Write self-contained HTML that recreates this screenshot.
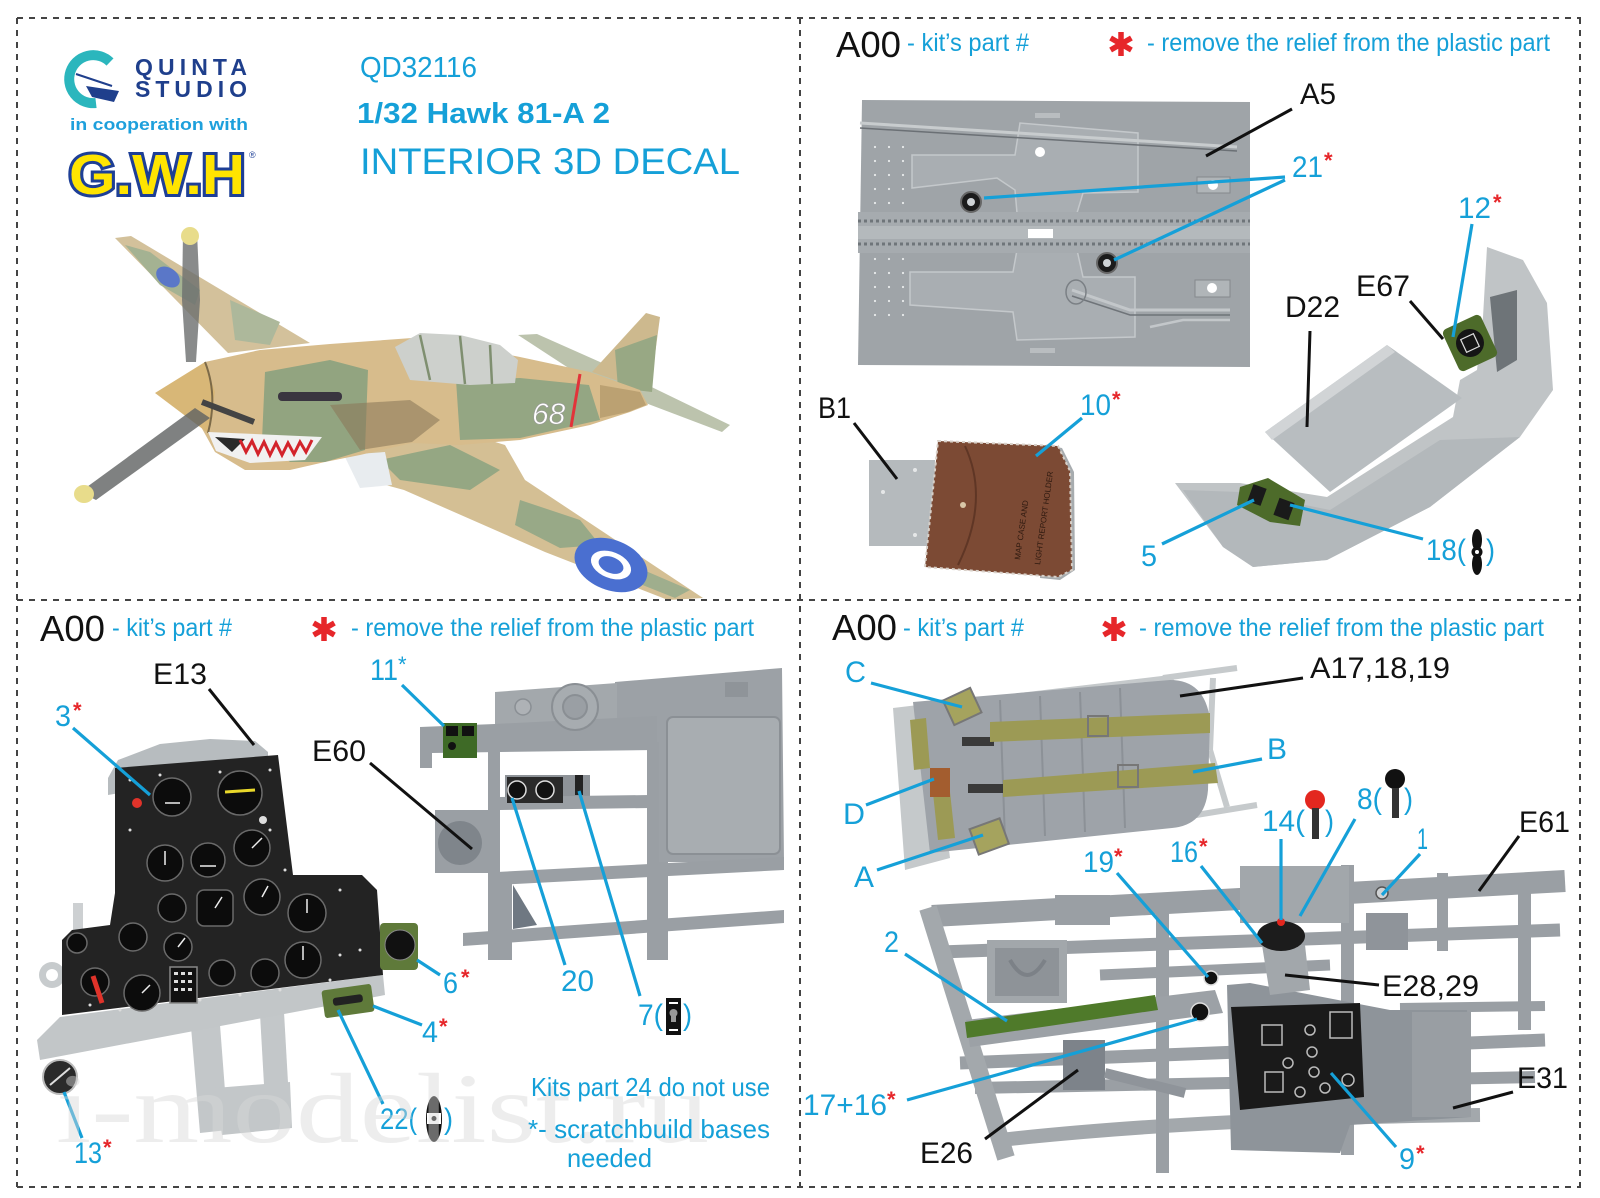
<!DOCTYPE html>
<html><head><meta charset="utf-8"><style>
html,body{margin:0;padding:0;background:#fff;}
svg{display:block;}
text{font-family:"Liberation Sans",Arial,sans-serif;}
.b{fill:#15a0d8;}
.k{fill:#111;}
.r{fill:#e6262a;font-weight:bold;}
.lb{stroke:#15a0d8;stroke-width:3.2;fill:none;}
.lk{stroke:#111;stroke-width:3;fill:none;}
.ast{stroke:#e6262a;stroke-width:5.5;fill:none;}
</style></head><body>
<svg width="1600" height="1198" viewBox="0 0 1600 1198" xmlns="http://www.w3.org/2000/svg">
<rect width="1600" height="1198" fill="#fff"/>

<!-- ================= TOP LEFT ================= -->
<path d="M110,62 A24 24 0 1 0 96,103" stroke="#2bb6bd" stroke-width="10" fill="none"/>
<path d="M76,74 L112,86" stroke="#1f3f8c" stroke-width="2"/>
<polygon points="86,86 119,91 114,102 92,97" fill="#1f3f8c"/>
<text x="135" y="75" font-size="23" font-weight="bold" fill="#1f3f8c" textLength="112" lengthAdjust="spacing">QUINTA</text>
<text x="135" y="97" font-size="23" font-weight="bold" fill="#1f3f8c" textLength="112" lengthAdjust="spacing">STUDIO</text>
<text x="70" y="130" font-size="17" font-weight="bold" fill="#1ea0dc" textLength="178" lengthAdjust="spacingAndGlyphs">in cooperation with</text>
<text x="69" y="194" font-size="57" font-weight="bold" fill="#ffe400" stroke="#1e3f96" stroke-width="6" paint-order="stroke" textLength="176" lengthAdjust="spacingAndGlyphs">G.W.H</text>
<text x="249" y="158" font-size="9" fill="#1e3f96">®</text>

<text x="360" y="77" font-size="29" class="b" textLength="117" lengthAdjust="spacingAndGlyphs">QD32116</text>
<text x="357" y="123" font-size="29" font-weight="bold" class="b" textLength="253" lengthAdjust="spacingAndGlyphs">1/32 Hawk 81-A 2</text>
<text x="360" y="174" font-size="37" class="b" textLength="380" lengthAdjust="spacingAndGlyphs">INTERIOR 3D DECAL</text>

<!-- Airplane -->
<g>
 <polygon points="115,238 131,236 310,343 228,353" fill="#d3c19b"/>
 <polygon points="125,245 150,252 200,290 195,305 160,285" fill="#a4b292"/>
 <polygon points="230,300 280,322 270,345 235,340" fill="#adb89b"/>
 <ellipse cx="168" cy="277" rx="13" ry="9" fill="#5a77c8" transform="rotate(35 168 277)"/>
 <polygon points="518,335 537,334 600,362 730,425 722,432 590,382" fill="#bcc3ad"/>
 <polygon points="592,372 646,313 660,317 650,392" fill="#cdb98e"/>
 <polygon points="615,350 657,335 652,392 618,388" fill="#98a884"/>
 <polygon points="340,450 400,440 456,430 505,445 525,480 703,598 668,600 545,552 404,490 360,478" fill="#d4bf94"/>
 <polygon points="380,460 450,445 500,470 470,490 400,480" fill="#95a783"/>
 <polygon points="520,500 580,520 600,545 560,548 515,525" fill="#98a987"/>
 <polygon points="620,560 690,590 675,598 630,580" fill="#9fae8d"/>
 <ellipse cx="611" cy="565" rx="38" ry="25" fill="#4a6fd0" transform="rotate(22 611 565)"/>
 <ellipse cx="611" cy="565" rx="21" ry="13" fill="#fff" transform="rotate(22 611 565)"/>
 <ellipse cx="611" cy="565" rx="13" ry="8" fill="#4a6fd0" transform="rotate(22 611 565)"/>
 <polygon points="344,455 385,452 392,485 360,488" fill="#e8ecef"/>
 <path d="M205,362 L260,350 L330,344 L412,338 L460,345 L520,357 L590,372 L640,390 L648,405 L630,412 L590,425 L520,440 L460,445 L412,443 L360,455 L325,462 L290,470 L245,470 L215,452 L200,425 Z" fill="#d7bc8c"/>
 <polygon points="265,372 330,360 368,370 365,450 325,462 290,462 262,440" fill="#92a480"/>
 <polygon points="330,405 410,400 440,420 412,442 360,450" fill="#8c7a5a" opacity="0.6"/>
 <polygon points="456,380 520,378 589,385 600,420 520,438 460,440" fill="#94a683"/>
 <polygon points="600,385 640,392 646,405 628,412 600,418" fill="#bba172"/>
 <line x1="580" y1="374" x2="571" y2="427" stroke="#e2333a" stroke-width="3"/>
 <text x="532" y="424" font-size="30" font-style="italic" fill="#fff" stroke="#999" stroke-width="0.6">68</text>
 <polygon points="395,347 420,333 460,335 500,345 518,360 515,383 470,385 410,380" fill="#cdd0cc"/>
 <path d="M420,335 L430,380 M460,336 L465,384 M490,345 L492,384" stroke="#7f8f70" stroke-width="2.5" fill="none"/>
 <rect x="278" y="392" width="64" height="9" rx="4" fill="#3a3540"/>
 <polygon points="155,393 205,362 215,392 208,433" fill="#d8b777"/>
 <path d="M205,362 Q218,395 208,433" stroke="#7c6a48" stroke-width="2" fill="none"/>
 <polygon points="208,432 322,437 305,460 250,463 216,451" fill="#f1f1f1"/>
 <polygon points="215,437 245,439 232,452" fill="#2a2a2a"/>
 <polyline points="240,440 246,452 252,441 258,454 264,442 270,455 276,443 282,455 288,443 294,454 300,442 306,452 312,440" stroke="#d3232b" stroke-width="3" fill="none"/>
 <polygon points="183,232 197,232 200,300 196,362 186,362 182,300" fill="#6b6e6e" opacity="0.8"/>
 <ellipse cx="190" cy="236" rx="9" ry="9" fill="#e8dc8b"/>
 <polygon points="195,408 210,418 96,500 80,492" fill="#5f6262" opacity="0.8"/>
 <ellipse cx="84" cy="494" rx="10" ry="9" fill="#e8dc8b"/>
 <line x1="202" y1="402" x2="254" y2="422" stroke="#444" stroke-width="6"/>
</g>

<!-- ================= TOP RIGHT ================= -->
<text x="836" y="57" font-size="36" class="k" textLength="65" lengthAdjust="spacingAndGlyphs">A00</text>
<text x="907" y="51" font-size="25" class="b" textLength="122" lengthAdjust="spacingAndGlyphs">- kit’s part #</text>
<path class="ast" d="M1121,32 L1121,56 M1110.6,38 L1131.4,50 M1110.6,50 L1131.4,38"/>
<text x="1147" y="51" font-size="25" class="b" textLength="403" lengthAdjust="spacingAndGlyphs">- remove the relief from the plastic part</text>

<defs>
 <pattern id="dots" width="14" height="14" patternUnits="userSpaceOnUse">
  <circle cx="7" cy="7" r="1.1" fill="#e8eaeb"/>
 </pattern>
</defs>
<polygon points="862,100 1250,102 1250,367 858,365" fill="#9fa4a8"/>
<rect x="868" y="135" width="45" height="190" fill="url(#dots)"/>
<polygon points="912,155 1015,155 1020,123 1138,133 1138,192 1083,193 1077,213 1017,213 1015,190 997,178 912,188" fill="#a9aeb2" stroke="#c4c8cb" stroke-width="1.5"/>
<polygon points="910,272 1013,272 1017,250 1077,250 1083,277 1135,277 1135,337 1017,340 1013,312 910,305" fill="#a9aeb2" stroke="#c4c8cb" stroke-width="1.5"/>
<rect x="858" y="212" width="392" height="41" fill="#a6abaf"/>
<rect x="858" y="226" width="392" height="13" fill="#b4b9bc"/>
<line x1="858" y1="221" x2="1250" y2="221" stroke="#6f757a" stroke-width="3" stroke-dasharray="3 3"/>
<line x1="858" y1="244" x2="1250" y2="244" stroke="#6f757a" stroke-width="3" stroke-dasharray="3 3"/>
<rect x="1028" y="229" width="25" height="9" fill="#fff"/>
<line x1="860" y1="123" x2="1237" y2="147" stroke="#c8ccce" stroke-width="3"/>
<line x1="860" y1="128" x2="1237" y2="151" stroke="#6b7075" stroke-width="1.5"/>
<circle cx="1040" cy="152" r="5" fill="#fff"/>
<rect x="1035" y="113" width="25" height="5" fill="#b9bdc0"/>
<rect x="1030" y="348" width="25" height="5" fill="#b9bdc0"/>
<rect x="1197" y="177" width="33" height="16" fill="#b0b5b8" stroke="#85898d"/>
<circle cx="1213" cy="185" r="5" fill="#fff"/>
<rect x="1195" y="280" width="35" height="17" fill="#b0b5b8" stroke="#85898d"/>
<circle cx="1212" cy="288" r="5" fill="#fff"/>
<polyline points="1072,290 1130,310 1230,310" stroke="#c3c7ca" stroke-width="3" fill="none"/>
<polyline points="1072,296 1130,315 1230,315" stroke="#6f7479" stroke-width="1.5" fill="none"/>
<polyline points="1150,327 1183,320 1230,320" stroke="#c3c7ca" stroke-width="2.5" fill="none"/>
<ellipse cx="1076" cy="292" rx="10" ry="12" fill="none" stroke="#7b8085" stroke-width="1.5"/>
<circle cx="971" cy="202" r="10" fill="#1b1b1b" stroke="#666" stroke-width="2"/>
<circle cx="971" cy="202" r="4" fill="#cfd3d6"/>
<circle cx="1107" cy="263" r="10" fill="#1b1b1b" stroke="#666" stroke-width="2"/>
<circle cx="1107" cy="263" r="4" fill="#cfd3d6"/>

<text x="1300" y="104" font-size="30" class="k" textLength="36" lengthAdjust="spacingAndGlyphs">A5</text>
<line class="lk" x1="1292" y1="109" x2="1206" y2="156"/>
<text x="1292" y="177" font-size="30" class="b" textLength="31" lengthAdjust="spacingAndGlyphs">21</text>
<text x="1324" y="168" font-size="22" class="r">*</text>
<line class="lb" x1="1285" y1="177" x2="984" y2="198"/>
<line class="lb" x1="1285" y1="180" x2="1114" y2="260"/>

<!-- D22 seat -->
<polygon points="1175,483 1240,483 1327,497 1453,417 1460,380 1477,370 1483,317 1487,247 1523,260 1547,303 1553,390 1520,437 1430,507 1327,560 1253,567 1223,547" fill="#c0c4c6"/>
<polygon points="1183,490 1240,492 1330,510 1440,440 1520,437 1430,507 1327,560 1253,567 1223,547" fill="#b3b8bb"/>
<polygon points="1265,432 1387,345 1462,398 1330,492" fill="#b8bdc0"/>
<polygon points="1265,432 1387,345 1395,352 1272,440" fill="#d1d4d6"/>
<polygon points="1490,297 1517,290 1517,360 1497,372" fill="#6e7478"/>
<g transform="rotate(-25 1470 343)">
 <rect x="1449" y="320" width="42" height="46" rx="5" fill="#4d6b2a"/>
 <circle cx="1470" cy="343" r="14" fill="#151515"/>
 <rect x="1463" y="336" width="14" height="14" fill="none" stroke="#ddd" stroke-width="1.2"/>
</g>
<polygon points="1240,487 1268,478 1305,500 1300,526 1270,522 1237,505" fill="#4d6b2a"/>
<rect x="1250" y="486" width="14" height="18" fill="#1a1a1a" transform="rotate(20 1257 495)"/>
<rect x="1276" y="500" width="16" height="18" fill="#1a1a1a" transform="rotate(20 1284 509)"/>

<text x="1458" y="218" font-size="30" class="b" textLength="33" lengthAdjust="spacingAndGlyphs">12</text>
<text x="1493" y="210" font-size="22" class="r">*</text>
<line class="lb" x1="1472" y1="224" x2="1453" y2="337"/>
<text x="1356" y="296" font-size="30" class="k" textLength="54" lengthAdjust="spacingAndGlyphs">E67</text>
<line class="lk" x1="1410" y1="301" x2="1443" y2="339"/>
<text x="1285" y="317" font-size="30" class="k" textLength="55" lengthAdjust="spacingAndGlyphs">D22</text>
<line class="lk" x1="1310" y1="331" x2="1307" y2="427"/>

<!-- B1 / map case -->
<rect x="869" y="460" width="66" height="86" fill="#b5babd"/>
<circle cx="883" cy="492" r="2" fill="#e5e7e8"/><circle cx="915" cy="470" r="2" fill="#e5e7e8"/><circle cx="915" cy="535" r="2" fill="#e5e7e8"/>
<polygon points="1045,445 1062,448 1074,472 1075,570 1060,580 1040,578" fill="#a7acaf"/>
<polygon points="938,441 1058,446 1070,471 1072,570 1058,577 925,567" fill="#7c4a34" stroke="#d8d0c8" stroke-width="2" stroke-dasharray="3 3"/>
<path d="M965,446 Q990,500 958,565" stroke="#5f3625" stroke-width="2" fill="none"/>
<circle cx="963" cy="505" r="3" fill="#d9c7a8"/>
<text x="0" y="0" font-size="8" fill="#2f1a10" transform="translate(1020,560) rotate(-82)">MAP CASE AND</text>
<text x="0" y="0" font-size="8" fill="#2f1a10" transform="translate(1040,565) rotate(-82)">LIGHT REPORT HOLDER</text>

<text x="818" y="418" font-size="30" class="k" textLength="33" lengthAdjust="spacingAndGlyphs">B1</text>
<line class="lk" x1="854" y1="423" x2="897" y2="479"/>
<text x="1080" y="415" font-size="30" class="b" textLength="31" lengthAdjust="spacingAndGlyphs">10</text>
<text x="1112" y="407" font-size="22" class="r">*</text>
<line class="lb" x1="1082" y1="418" x2="1036" y2="456"/>
<text x="1141" y="566" font-size="30" class="b" textLength="16" lengthAdjust="spacingAndGlyphs">5</text>
<line class="lb" x1="1162" y1="544" x2="1254" y2="500"/>
<text x="1426" y="560" font-size="30" class="b" textLength="40" lengthAdjust="spacingAndGlyphs">18(</text>
<ellipse cx="1477" cy="540" rx="5" ry="11" fill="#111"/>
<ellipse cx="1477" cy="564" rx="5" ry="11" fill="#111"/>
<circle cx="1477" cy="552" r="5.5" fill="#111"/>
<circle cx="1477" cy="552" r="2" fill="#fff"/>
<text x="1486" y="560" font-size="30" class="b" textLength="9" lengthAdjust="spacingAndGlyphs">)</text>
<line class="lb" x1="1423" y1="539" x2="1290" y2="505"/>

<!-- ================= BOTTOM LEFT ================= -->
<text x="40" y="641" font-size="36" class="k" textLength="65" lengthAdjust="spacingAndGlyphs">A00</text>
<text x="112" y="636" font-size="25" class="b" textLength="120" lengthAdjust="spacingAndGlyphs">- kit’s part #</text>
<path class="ast" d="M324,617 L324,641 M313.6,623 L334.4,635 M313.6,635 L334.4,623"/>
<text x="351" y="636" font-size="25" class="b" textLength="403" lengthAdjust="spacingAndGlyphs">- remove the relief from the plastic part</text>

<!-- instrument panel -->
<polygon points="108,778 118,760 160,744 210,739 255,741 268,752 268,768 108,795" fill="#b7bcbf"/>
<polygon points="191,1027 220,1025 228,1130 200,1133" fill="#c3c7c9"/>
<polygon points="260,1014 284,1012 290,1118 266,1120" fill="#c3c7c9"/>
<polygon points="215,1088 290,1082 292,1128 222,1135" fill="#c3c7c9"/>
<polygon points="37,1040 60,1017 383,975 385,995 40,1060" fill="#c2c6c8"/>
<circle cx="52" cy="975" r="13" fill="#c7cbcd"/>
<circle cx="52" cy="975" r="6" fill="#fff"/>
<rect x="73" y="903" width="10" height="28" fill="#cdd0d2"/>
<polygon points="115,768 278,755 293,875 362,875 377,890 383,975 62,1015 62,940 72,930 110,925 115,893" fill="#232323"/>
<rect x="380" y="923" width="38" height="47" rx="4" fill="#5f7a3a"/>
<circle cx="400" cy="945" r="15" fill="#111" stroke="#888" stroke-width="1"/>
<rect x="323" y="987" width="50" height="28" rx="3" fill="#5f7a3a" transform="rotate(-8 348 1001)"/>
<rect x="333" y="996" width="30" height="8" rx="3" fill="#222" transform="rotate(-8 348 1001)"/>
<circle cx="60" cy="1077" r="17" fill="#2a2a2a" stroke="#bbb" stroke-width="2"/>
<line x1="50" y1="1085" x2="70" y2="1068" stroke="#ddd" stroke-width="2"/>
<g fill="#0c0c0c" stroke="#6a6a6a" stroke-width="1.5">
 <circle cx="172" cy="797" r="19"/>
 <circle cx="240" cy="793" r="22"/>
 <circle cx="165" cy="863" r="18"/>
 <circle cx="208" cy="860" r="17"/>
 <circle cx="252" cy="848" r="18"/>
 <circle cx="172" cy="908" r="14"/>
 <rect x="197" y="890" width="36" height="36" rx="7"/>
 <circle cx="262" cy="897" r="18"/>
 <circle cx="307" cy="913" r="19"/>
 <circle cx="133" cy="937" r="14"/>
 <circle cx="178" cy="947" r="14"/>
 <circle cx="303" cy="960" r="18"/>
 <circle cx="265" cy="973" r="14"/>
 <circle cx="222" cy="973" r="13"/>
 <circle cx="142" cy="993" r="18"/>
 <circle cx="77" cy="943" r="10"/>
 <circle cx="95" cy="982" r="14"/>
</g>
<line x1="225" y1="792" x2="255" y2="790" stroke="#e9d82a" stroke-width="3"/>
<g stroke="#eee" stroke-width="1.5">
 <line x1="165" y1="803" x2="180" y2="803"/><line x1="165" y1="865" x2="165" y2="851"/>
 <line x1="200" y1="866" x2="216" y2="866"/><line x1="252" y1="848" x2="262" y2="838"/>
 <line x1="215" y1="908" x2="222" y2="897"/><line x1="262" y1="897" x2="268" y2="886"/>
 <line x1="307" y1="913" x2="307" y2="899"/><line x1="303" y1="960" x2="303" y2="946"/>
 <line x1="178" y1="947" x2="185" y2="938"/><line x1="142" y1="993" x2="150" y2="985"/>
</g>
<rect x="170" y="967" width="27" height="36" fill="#111" stroke="#888" stroke-width="1.5"/>
<g fill="#ddd"><rect x="174" y="972" width="4" height="3"/><rect x="181" y="972" width="4" height="3"/><rect x="188" y="972" width="4" height="3"/><rect x="174" y="980" width="4" height="3"/><rect x="181" y="980" width="4" height="3"/><rect x="188" y="980" width="4" height="3"/><rect x="174" y="988" width="4" height="3"/><rect x="181" y="988" width="4" height="3"/><rect x="188" y="988" width="4" height="3"/></g>
<line x1="93" y1="976" x2="102" y2="1003" stroke="#e0332a" stroke-width="5"/>
<circle cx="137" cy="803" r="5" fill="#e0332a"/>
<circle cx="263" cy="820" r="4" fill="#ddd"/>
<g fill="#ddd">
 <circle cx="130" cy="780" r="1.5"/><circle cx="160" cy="775" r="1.5"/><circle cx="220" cy="772" r="1.5"/><circle cx="270" cy="770" r="1.5"/>
 <circle cx="130" cy="830" r="1.5"/><circle cx="270" cy="830" r="1.5"/><circle cx="285" cy="870" r="1.5"/><circle cx="340" cy="890" r="1.5"/>
 <circle cx="360" cy="950" r="1.5"/><circle cx="340" cy="955" r="1.5"/><circle cx="90" cy="1005" r="1.5"/><circle cx="120" cy="1010" r="1.5"/>
 <circle cx="200" cy="1000" r="1.5"/><circle cx="240" cy="995" r="1.5"/><circle cx="280" cy="990" r="1.5"/><circle cx="330" cy="980" r="1.5"/>
</g>

<!-- E60 frame -->
<polygon points="615,682 782,668 784,862 657,862 657,722 615,724" fill="#9ca1a6"/>
<rect x="667" y="717" width="113" height="137" rx="6" fill="#a8adb1" stroke="#8b9095" stroke-width="2"/>
<rect x="725" y="682" width="23" height="15" fill="#8f9499"/>
<polygon points="495,692 617,683 617,722 495,725" fill="#a3a8ac"/>
<polygon points="420,727 495,724 617,718 657,716 657,750 500,752 432,753 432,768 420,768" fill="#9a9fa4"/>
<circle cx="575" cy="707" r="23" fill="#a7acb0" stroke="#8a8f94" stroke-width="2"/>
<circle cx="575" cy="707" r="12" fill="#9a9fa4" stroke="#8a8f94" stroke-width="2"/>
<circle cx="523" cy="707" r="8" fill="#aeb2b6" stroke="#8a8f94" stroke-width="1.5"/>
<rect x="488" y="750" width="12" height="210" fill="#9a9fa4"/>
<rect x="505" y="775" width="85" height="28" fill="#8e9398"/>
<polygon points="500,797 650,795 650,808 500,810" fill="#9a9fa4"/>
<rect x="435" y="810" width="62" height="63" fill="#9a9fa4"/>
<circle cx="460" cy="843" r="22" fill="#7f858b"/>
<polygon points="497,872 784,857 784,870 497,885" fill="#9a9fa4"/>
<rect x="497" y="873" width="15" height="87" fill="#9a9fa4"/>
<polygon points="513,885 537,925 513,929" fill="#6f7882"/>
<rect x="647" y="742" width="12" height="218" fill="#9a9fa4"/>
<rect x="659" y="862" width="9" height="98" fill="#9a9fa4"/>
<polygon points="463,933 784,910 784,923 463,946" fill="#9a9fa4"/>
<rect x="443" y="723" width="34" height="35" fill="#3e6a26"/>
<rect x="446" y="726" width="12" height="10" fill="#111"/><rect x="462" y="726" width="12" height="10" fill="#111"/>
<circle cx="452" cy="746" r="4" fill="#111"/>
<rect x="507" y="777" width="56" height="26" fill="#2a2a2a"/>
<circle cx="517" cy="790" r="9" fill="#111" stroke="#ddd" stroke-width="1.5"/>
<circle cx="545" cy="790" r="9" fill="#111" stroke="#ddd" stroke-width="1.5"/>
<rect x="575" y="775" width="8" height="20" fill="#222"/>

<!-- labels bottom-left -->
<text x="153" y="684" font-size="30" class="k" textLength="54" lengthAdjust="spacingAndGlyphs">E13</text>
<line class="lk" x1="209" y1="689" x2="254" y2="745"/>
<text x="55" y="726" font-size="30" class="b" textLength="16" lengthAdjust="spacingAndGlyphs">3</text>
<text x="73" y="718" font-size="22" class="r">*</text>
<line class="lb" x1="73" y1="728" x2="150" y2="795"/>
<text x="312" y="761" font-size="30" class="k" textLength="54" lengthAdjust="spacingAndGlyphs">E60</text>
<line class="lk" x1="370" y1="763" x2="472" y2="849"/>
<text x="370" y="680" font-size="30" class="b" textLength="28" lengthAdjust="spacingAndGlyphs">11</text>
<text x="398" y="672" font-size="22" class="b">*</text>
<line class="lb" x1="402" y1="685" x2="444" y2="726"/>
<text x="561" y="991" font-size="30" class="b" textLength="33" lengthAdjust="spacingAndGlyphs">20</text>
<line class="lb" x1="565" y1="965" x2="512" y2="798"/>
<text x="638" y="1025" font-size="30" class="b" textLength="25" lengthAdjust="spacingAndGlyphs">7(</text>
<rect x="666" y="998" width="15" height="37" fill="#111"/>
<rect x="669" y="1002" width="9" height="2" fill="#fff"/>
<rect x="669" y="1029" width="9" height="2" fill="#fff"/>
<circle cx="673.5" cy="1013" r="4" fill="#999"/>
<rect x="671" y="1014" width="5" height="8" fill="#999"/>
<text x="683" y="1025" font-size="30" class="b" textLength="9" lengthAdjust="spacingAndGlyphs">)</text>
<line class="lb" x1="640" y1="996" x2="579" y2="791"/>
<text x="443" y="993" font-size="30" class="b" textLength="15" lengthAdjust="spacingAndGlyphs">6</text>
<text x="461" y="985" font-size="22" class="r">*</text>
<line class="lb" x1="440" y1="975" x2="417" y2="960"/>
<text x="422" y="1042" font-size="30" class="b" textLength="16" lengthAdjust="spacingAndGlyphs">4</text>
<text x="439" y="1034" font-size="22" class="r">*</text>
<line class="lb" x1="422" y1="1025" x2="373" y2="1006"/>
<text x="380" y="1129" font-size="30" class="b" textLength="37" lengthAdjust="spacingAndGlyphs">22(</text>
<ellipse cx="434" cy="1119" rx="8" ry="23" fill="#111"/>
<rect x="427" y="1113" width="14" height="11" fill="#fff"/>
<circle cx="434" cy="1118.5" r="2.5" fill="#111"/>
<text x="444" y="1129" font-size="30" class="b" textLength="9" lengthAdjust="spacingAndGlyphs">)</text>
<line class="lb" x1="383" y1="1104" x2="338" y2="1010"/>
<text x="74" y="1163" font-size="30" class="b" textLength="28" lengthAdjust="spacingAndGlyphs">13</text>
<text x="103" y="1155" font-size="22" class="r">*</text>
<line class="lb" x1="82" y1="1138" x2="64" y2="1092"/>

<text x="56" y="1142" font-size="100" fill="#d9d9d9" opacity="0.45" textLength="653" lengthAdjust="spacingAndGlyphs" style="font-family:'Liberation Serif',serif">i-modelist.ru</text>

<text x="531" y="1096" font-size="26" class="b" textLength="239" lengthAdjust="spacingAndGlyphs">Kits part 24 do not use</text>
<text x="528" y="1138" font-size="26" class="b" textLength="242" lengthAdjust="spacingAndGlyphs">*- scratchbuild bases</text>
<text x="567" y="1167" font-size="26" class="b" textLength="85" lengthAdjust="spacingAndGlyphs">needed</text>

<!-- ================= BOTTOM RIGHT ================= -->
<text x="832" y="640" font-size="36" class="k" textLength="65" lengthAdjust="spacingAndGlyphs">A00</text>
<text x="903" y="636" font-size="25" class="b" textLength="121" lengthAdjust="spacingAndGlyphs">- kit’s part #</text>
<path class="ast" d="M1114,617 L1114,641 M1103.6,623 L1124.4,635 M1103.6,635 L1124.4,623"/>
<text x="1139" y="636" font-size="25" class="b" textLength="405" lengthAdjust="spacingAndGlyphs">- remove the relief from the plastic part</text>

<!-- A17 seat -->
<g stroke="#c6cacc" stroke-width="6" fill="none">
 <line x1="1163" y1="678" x2="1237" y2="668"/>
 <line x1="1213" y1="678" x2="1210" y2="750"/>
 <line x1="1210" y1="750" x2="1227" y2="807"/>
 <line x1="1178" y1="818" x2="1257" y2="805"/>
</g>
<polygon points="893,708 1170,675 1182,690 932,714 950,858 905,870" fill="#c5c9cb"/>
<path d="M913,702 L1170,680 Q1205,680 1210,720 L1208,790 Q1205,825 1172,828 L930,853 Z" fill="#9ea3a9"/>
<g stroke="#8c9197" stroke-width="2">
 <line x1="1000" y1="700" x2="1005" y2="840"/><line x1="1040" y1="696" x2="1045" y2="836"/>
 <line x1="1080" y1="692" x2="1085" y2="832"/><line x1="1120" y1="688" x2="1125" y2="828"/>
</g>
<rect x="962" y="737" width="32" height="9" fill="#3a3a3a"/>
<rect x="968" y="784" width="36" height="9" fill="#3a3a3a"/>
<polygon points="990,722 1210,713 1210,733 990,742" fill="#9c9a55"/>
<polygon points="1003,780 1215,763 1218,783 1003,797" fill="#9c9a55"/>
<rect x="1088" y="716" width="20" height="20" fill="none" stroke="#777" stroke-width="2"/>
<rect x="1118" y="765" width="20" height="22" fill="none" stroke="#777" stroke-width="2"/>
<polygon points="910,720 926,718 930,768 914,770" fill="#9c9a55"/>
<polygon points="933,793 950,792 955,838 938,840" fill="#9c9a55"/>
<rect x="947" y="693" width="30" height="27" fill="#a5a35e" stroke="#777" stroke-width="2" transform="rotate(-25 962 706)"/>
<rect x="973" y="823" width="32" height="27" fill="#a5a35e" stroke="#777" stroke-width="2" transform="rotate(-20 989 836)"/>
<rect x="930" y="768" width="20" height="29" fill="#a35d2f"/>

<!-- E61 frame -->
<g fill="#9a9fa4">
 <line x1="932" y1="916" x2="1565" y2="881" stroke="#9a9fa4" stroke-width="22"/>
 <line x1="940" y1="952" x2="1560" y2="930" stroke="#9a9fa4" stroke-width="13"/>
 <line x1="1100" y1="975" x2="1330" y2="965" stroke="#9a9fa4" stroke-width="11"/>
 <line x1="960" y1="1063" x2="1545" y2="1040" stroke="#9a9fa4" stroke-width="13"/>
 <line x1="975" y1="1088" x2="1535" y2="1077" stroke="#9a9fa4" stroke-width="12"/>
 <path d="M1000,1140 Q1200,1118 1480,1115" stroke="#a3a8ac" stroke-width="14" fill="none"/>
 <line x1="1400" y1="1008" x2="1545" y2="1006" stroke="#9a9fa4" stroke-width="10"/>
 <line x1="928" y1="908" x2="1006" y2="1158" stroke="#a3a8ac" stroke-width="18"/>
 <rect x="1156" y="895" width="13" height="278"/>
 <rect x="1341" y="865" width="13" height="290"/>
 <rect x="1518" y="880" width="13" height="150"/>
 <rect x="1437" y="873" width="11" height="78"/>
 <rect x="1055" y="895" width="55" height="30"/>
 <rect x="1240" y="866" width="109" height="57" fill="#a2a7ab"/>
 <rect x="1366" y="913" width="42" height="37" fill="#8f949a"/>
</g>
<rect x="987" y="940" width="80" height="63" fill="#a2a7ab"/>
<rect x="995" y="948" width="64" height="48" fill="#8e9398"/>
<path d="M1010,960 Q1027,990 1045,960" stroke="#7c8187" stroke-width="4" fill="none"/>
<polygon points="966,1020 1215,990 1223,1013 970,1047" fill="#9ca1a6"/>
<polygon points="965,1022 1155,995 1158,1010 967,1038" fill="#4f7a2a"/>
<rect x="1063" y="1040" width="42" height="50" fill="#7d838a"/>
<line x1="1105" y1="1073" x2="1185" y2="1093" stroke="#8f949a" stroke-width="10"/>
<polygon points="1227,985 1250,983 1390,1010 1467,1010 1471,1117 1350,1125 1340,1153 1231,1150" fill="#8e949a"/>
<rect x="1412" y="1012" width="59" height="105" fill="#999ea3"/>
<polygon points="1231,1007 1360,1003 1364,1097 1240,1110" fill="#1a1a1a"/>
<g fill="none" stroke="#bbb" stroke-width="1.5">
 <circle cx="1310" cy="1030" r="5"/><circle cx="1312" cy="1052" r="5"/><circle cx="1314" cy="1072" r="5"/>
 <circle cx="1288" cy="1063" r="5"/><circle cx="1300" cy="1092" r="5"/><circle cx="1325" cy="1088" r="5"/>
 <circle cx="1348" cy="1080" r="6"/><rect x="1330" y="1012" width="22" height="26"/>
 <rect x="1262" y="1025" width="20" height="20"/><rect x="1265" y="1072" width="18" height="20"/>
</g>
<polygon points="1262,945 1305,945 1310,990 1270,995" fill="#a2a7ab"/>
<ellipse cx="1281" cy="936" rx="24" ry="15" fill="#1c1c1c"/>
<circle cx="1281" cy="922" r="4" fill="#e3271f"/>
<circle cx="1211" cy="978" r="7" fill="#111" stroke="#ddd" stroke-width="1.5"/>
<circle cx="1200" cy="1012" r="9" fill="#111" stroke="#ddd" stroke-width="1.5"/>
<circle cx="1382" cy="893" r="6" fill="#cfd2d4" stroke="#555" stroke-width="1.5"/>

<!-- labels bottom-right -->
<text x="845" y="682" font-size="30" class="b" textLength="21" lengthAdjust="spacingAndGlyphs">C</text>
<line class="lb" x1="871" y1="683" x2="962" y2="707"/>
<text x="1310" y="678" font-size="30" class="k" textLength="140" lengthAdjust="spacingAndGlyphs">A17,18,19</text>
<line class="lk" x1="1303" y1="678" x2="1180" y2="696"/>
<text x="1267" y="759" font-size="30" class="b" textLength="20" lengthAdjust="spacingAndGlyphs">B</text>
<line class="lb" x1="1262" y1="759" x2="1193" y2="772"/>
<text x="843" y="824" font-size="30" class="b" textLength="22" lengthAdjust="spacingAndGlyphs">D</text>
<line class="lb" x1="866" y1="805" x2="934" y2="779"/>
<text x="854" y="887" font-size="30" class="b" textLength="20" lengthAdjust="spacingAndGlyphs">A</text>
<line class="lb" x1="877" y1="870" x2="983" y2="835"/>
<text x="1519" y="832" font-size="30" class="k" textLength="51" lengthAdjust="spacingAndGlyphs">E61</text>
<line class="lk" x1="1519" y1="836" x2="1479" y2="891"/>
<text x="1417" y="849" font-size="30" class="b" textLength="11" lengthAdjust="spacingAndGlyphs">1</text>
<line class="lb" x1="1420" y1="854" x2="1382" y2="895"/>
<text x="1262" y="831" font-size="30" class="b" textLength="43" lengthAdjust="spacingAndGlyphs">14(</text>
<circle cx="1315" cy="800" r="10" fill="#e3271f"/>
<rect x="1312" y="808" width="7" height="31" fill="#333"/>
<text x="1325" y="831" font-size="30" class="b" textLength="9" lengthAdjust="spacingAndGlyphs">)</text>
<line class="lb" x1="1281" y1="839" x2="1281" y2="920"/>
<text x="1357" y="809" font-size="30" class="b" textLength="25" lengthAdjust="spacingAndGlyphs">8(</text>
<circle cx="1395" cy="779" r="10" fill="#111"/>
<rect x="1392" y="788" width="7" height="30" fill="#333"/>
<text x="1404" y="809" font-size="30" class="b" textLength="9" lengthAdjust="spacingAndGlyphs">)</text>
<line class="lb" x1="1355" y1="819" x2="1300" y2="916"/>
<text x="1083" y="872" font-size="30" class="b" textLength="31" lengthAdjust="spacingAndGlyphs">19</text>
<text x="1114" y="864" font-size="22" class="r">*</text>
<line class="lb" x1="1117" y1="873" x2="1208" y2="977"/>
<text x="1170" y="862" font-size="30" class="b" textLength="28" lengthAdjust="spacingAndGlyphs">16</text>
<text x="1199" y="854" font-size="22" class="r">*</text>
<line class="lb" x1="1201" y1="866" x2="1262" y2="943"/>
<text x="884" y="952" font-size="30" class="b" textLength="15" lengthAdjust="spacingAndGlyphs">2</text>
<line class="lb" x1="905" y1="954" x2="1007" y2="1021"/>
<text x="1382" y="996" font-size="30" class="k" textLength="97" lengthAdjust="spacingAndGlyphs">E28,29</text>
<line class="lk" x1="1379" y1="985" x2="1285" y2="975"/>
<text x="803" y="1115" font-size="30" class="b" textLength="84" lengthAdjust="spacingAndGlyphs">17+16</text>
<text x="887" y="1107" font-size="22" class="r">*</text>
<line class="lb" x1="907" y1="1100" x2="1197" y2="1019"/>
<text x="920" y="1163" font-size="30" class="k" textLength="53" lengthAdjust="spacingAndGlyphs">E26</text>
<line class="lk" x1="985" y1="1139" x2="1078" y2="1070"/>
<text x="1399" y="1169" font-size="30" class="b" textLength="16" lengthAdjust="spacingAndGlyphs">9</text>
<text x="1416" y="1161" font-size="22" class="r">*</text>
<line class="lb" x1="1396" y1="1147" x2="1331" y2="1073"/>
<text x="1517" y="1088" font-size="30" class="k" textLength="51" lengthAdjust="spacingAndGlyphs">E31</text>
<line class="lk" x1="1513" y1="1092" x2="1453" y2="1108"/>

<!-- dashed borders -->
<g stroke="#444" stroke-width="2" stroke-dasharray="6 6" fill="none">
 <line x1="17" y1="18" x2="1581" y2="18"/>
 <line x1="17" y1="18" x2="17" y2="1187"/>
 <line x1="1580" y1="18" x2="1580" y2="1187"/>
 <line x1="17" y1="1187" x2="1581" y2="1187"/>
 <line x1="800" y1="18" x2="800" y2="1187"/>
 <line x1="17" y1="600" x2="1581" y2="600"/>
</g>
</svg>
</body></html>
